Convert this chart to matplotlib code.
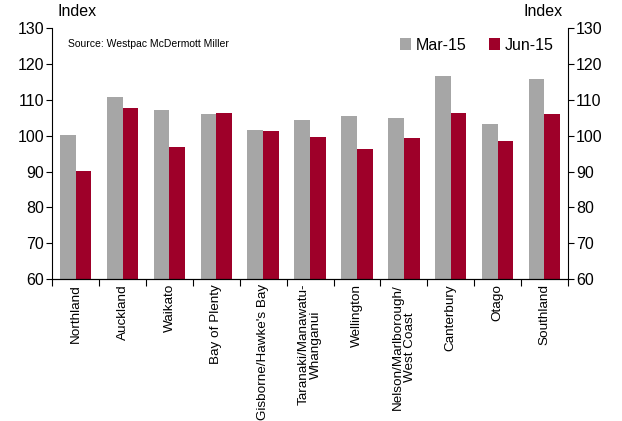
import matplotlib
matplotlib.use("Agg")
import matplotlib.pyplot as plt
import numpy as np

plt.rcParams['font.family'] = ['Liberation Sans', 'DejaVu Sans']

regions = ["Northland", "Auckland", "Waikato", "Bay of Plenty", "Gisborne/Hawke's Bay",
           "Taranaki/Manawatu-\nWhanganui", "Wellington", "Nelson/Marlborough/\nWest Coast",
           "Canterbury", "Otago", "Southland"]
mar15 = [100.2, 110.9, 107.2, 106.1, 101.6, 104.3, 105.4, 104.9, 116.7, 103.3, 115.9]
jun15 = [90.1, 107.8, 96.9, 106.3, 101.3, 99.7, 96.4, 99.4, 106.3, 98.5, 106.2]
yticks = [60, 70, 80, 90, 100, 110, 120, 130]

grey = "#A6A6A6"
crimson = "#9E0029"

fig = plt.figure(figsize=(6.22, 4.21), dpi=100)
ax = fig.add_axes([0.084, 0.337, 0.829, 0.596])

x = np.arange(len(regions))
w = 0.335
ax.bar(x - w / 2, mar15, width=w, color=grey, label="Mar-15")
ax.bar(x + w / 2, jun15, width=w, color=crimson, label="Jun-15")

ax.set_xlim(-0.5, len(regions) - 0.5)
ax.set_ylim(60, 130)
ax.set_yticks(yticks)
ax.tick_params(axis='y', labelsize=11.5, length=4, direction='out', pad=2)

# category boundaries carry the tick marks; names sit centred below each pair
ax.set_xticks(np.arange(len(regions) + 1) - 0.5)
ax.set_xticklabels([])
ax.set_xticks(x, minor=True)
ax.set_xticklabels(regions, minor=True, rotation=90, fontsize=9.7, linespacing=1.0)
ax.tick_params(axis='x', which='major', length=5, direction='out')
ax.tick_params(axis='x', which='minor', length=0, pad=3.5)

for s in ["top", "right"]:
    ax.spines[s].set_visible(False)

ax2 = ax.twinx()
ax2.set_ylim(60, 130)
ax2.set_yticks(yticks)
ax2.tick_params(axis='y', labelsize=11.5, length=4, direction='out', pad=2)
ax2.spines["top"].set_visible(False)
ax2.spines["left"].set_visible(False)

fig.text(0.093, 0.955, "Index", fontsize=11.5, ha='left', va='bottom')
fig.text(0.905, 0.955, "Index", fontsize=11.5, ha='right', va='bottom')
ax.text(0.03, 0.955, "Source: Westpac McDermott Miller", transform=ax.transAxes,
        fontsize=7.5, ha='left', va='top')

leg = ax.legend(loc='upper right', bbox_to_anchor=(1.0, 1.02), ncol=2, frameon=False,
                fontsize=11.5, handlelength=0.7, handleheight=0.7, handletextpad=0.3,
                columnspacing=1.4)

fig.savefig("out.png", dpi=100, facecolor="white")
